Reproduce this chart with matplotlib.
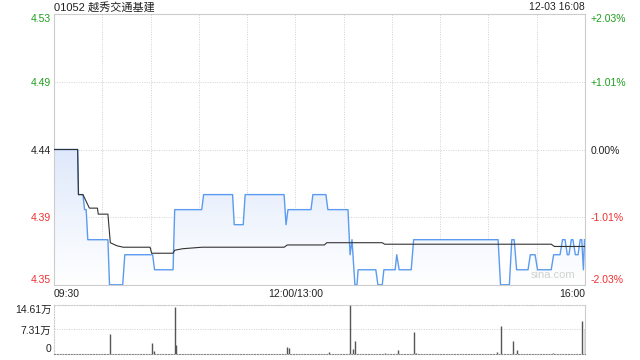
import numpy as np
import matplotlib
matplotlib.use('Agg')
import matplotlib.pyplot as plt
from matplotlib.colors import LinearSegmentedColormap

plt.rcParams['font.family'] = ['Liberation Sans', 'Noto Sans CJK SC', 'DejaVu Sans']

title = '01052 越秀交通基建'
stamp = '12-03 16:08'
prev_close = 4.44

# price line, breakpoints (minutes since 09:30, lunch removed)
price_t = [0, 14.7, 15.2, 18, 19, 20, 21, 33.5, 34.5, 42.7, 44, 61.3, 62.5, 74, 75,
           91.8, 93, 111, 112, 117.6, 118.8, 143, 144.2, 145.4, 159.7, 160.9, 169, 170.2,
           182.7, 184, 185.2, 187, 188.3, 189, 200, 201.3, 204, 205, 212, 213, 214.5,
           222, 223.5, 276, 277.5, 283, 284.5, 286, 287.5, 294.6, 296, 299, 300.5,
           309, 310.5, 314.5, 316, 317.6, 319, 320, 321.5, 322.5, 324, 325.7, 327,
           328, 329, 329.7]
price_v = [4.44, 4.44, 4.41, 4.41, 4.40, 4.40, 4.38, 4.38, 4.35, 4.35, 4.37, 4.37, 4.36, 4.36, 4.40,
           4.40, 4.41, 4.41, 4.39, 4.39, 4.41, 4.41, 4.39, 4.40, 4.40, 4.41, 4.41, 4.40,
           4.40, 4.37, 4.38, 4.35, 4.35, 4.36, 4.36, 4.35, 4.35, 4.36, 4.36, 4.37, 4.36,
           4.36, 4.38, 4.38, 4.35, 4.35, 4.38, 4.38, 4.36, 4.36, 4.37, 4.37, 4.36,
           4.36, 4.37, 4.37, 4.38, 4.38, 4.37, 4.37, 4.38, 4.38, 4.37, 4.37, 4.38,
           4.38, 4.36, 4.38]

# average price line
avg_t = [0, 14.7, 15.2, 18, 22, 27, 27.5, 33.5, 35, 39, 43, 59.7, 60.7, 74, 75, 80, 92,
         143, 145, 168, 169.5, 204, 205.5, 309, 311, 329.7]
avg_v = [4.44, 4.44, 4.41, 4.41, 4.401, 4.401, 4.397, 4.397, 4.378, 4.376, 4.375, 4.375,
         4.371, 4.371, 4.373, 4.374, 4.375, 4.375, 4.3765, 4.3765, 4.378, 4.378, 4.377,
         4.377, 4.3755, 4.3755]

# volume spikes (万股)
vol_t = [35, 61, 62, 75, 76, 145, 146, 171, 184, 186, 187, 206, 214, 224, 225,
         275, 278, 285, 288, 310, 328, 330]
vol_v = [5.96, 3.4, 1.0, 13.9, 2.7, 2.1, 1.7, 0.6, 14.61, 1.5, 3.9, 0.4, 1.2, 6.6, 0.4,
         0.6, 8.3, 3.9, 1.2, 0.3, 9.8, 7.6]

xtick_pos = [0, 150, 330]
xtick_lab = ['09:30', '12:00/13:00', '16:00']
pct = [2.03, 1.01, 0.0, -1.01, -2.03]
ylab_left = ['4.53', '4.49', '4.44', '4.39', '4.35']
ylab_right = ['+2.03%', '+1.01%', '0.00%', '-1.01%', '-2.03%']
vol_ticks = [0, 7.31, 14.61]
vol_lab = ['0', '7.31万', '14.61万']

green = '#1e9e1e'
red = '#ee3030'
dark = '#222222'
border = '#cccccc'

fig = plt.figure(figsize=(6.4, 3.6), dpi=100)
ax = fig.add_axes([54/640, 1-285/360, 531/640, 271/360])
axv = fig.add_axes([54/640, 1-354/360, 531/640, 49/360])

yticks = [prev_close*(1+p/100) for p in pct]
y0, y1 = yticks[-1], yticks[0]
ax.set_xlim(0, 330)
ax.set_ylim(y0, y1)

# gradient fill under the price line
poly = ax.fill_between(price_t, price_v, y0, color='none', lw=0)
cmap = LinearSegmentedColormap.from_list('fade', ['#ffffff', '#dfe9fb'])
grad = np.linspace(1, 0, 256).reshape(-1, 1)
im = ax.imshow(grad, extent=[0, 330, y0, prev_close], aspect='auto', cmap=cmap,
               origin='upper', zorder=1)
im.set_clip_path(poly.get_paths()[0], transform=ax.transData)
ax.set_ylim(y0, y1)

ax.plot(price_t, price_v, color='#5b9bf0', lw=1.0, zorder=3)
ax.plot(avg_t, avg_v, color='#333333', lw=0.8, zorder=4)

ax.set_yticks(yticks)
ax.set_yticklabels(ylab_left)
ax.set_xticks(xtick_pos)
ax.set_xticklabels(xtick_lab)
ax.set_xticks(np.arange(30, 330, 30), minor=True)
ax.grid(True, which='both', axis='x', color='#d2d2d2', ls=(0, (1, 1.5)), lw=0.7)
ax.grid(True, which='major', axis='y', color='#d2d2d2', ls=(0, (1, 1.5)), lw=0.7)
ax.set_axisbelow(True)
ax.tick_params(axis='both', which='both', length=0, labelsize=7.5)
ax.tick_params(axis='y', pad=2)
ax.tick_params(axis='x', pad=3)
for sp in ax.spines.values():
    sp.set_color(border)
    sp.set_linewidth(0.8)

cols = [green, green, dark, red, red]
for lab, c in zip(ax.get_yticklabels(), cols):
    lab.set_color(c)
ax.get_yticklabels()[0].set_va('top')
ax.get_yticklabels()[-1].set_va('bottom')
xl = ax.get_xticklabels()
xl[0].set_ha('left')
xl[-1].set_ha('right')
for lab in xl:
    lab.set_color(dark)

ax2 = ax.twinx()
ax2.set_ylim(y0, y1)
ax2.set_yticks(yticks)
ax2.set_yticklabels(ylab_right)
ax2.tick_params(axis='y', length=0, labelsize=7.5, pad=4)
for sp in ax2.spines.values():
    sp.set_visible(False)
for lab, c in zip(ax2.get_yticklabels(), cols):
    lab.set_color(c)
ax2.get_yticklabels()[0].set_va('top')
ax2.get_yticklabels()[-1].set_va('bottom')

ax.text(0.94, 0.02, 'sina.com', transform=ax.transAxes, ha='center', va='bottom',
        fontsize=8, color='#d0d0d0', zorder=5)

fig.text(54/640, 1-7/360, title, ha='left', va='center', fontsize=8, color=dark)
fig.text(585/640, 1-7/360, stamp, ha='right', va='center', fontsize=7.5, color=dark)

# volume panel
axv.vlines(vol_t, 0, vol_v, color='#555555', lw=1.0)
axv.set_xlim(0, 330)
axv.set_ylim(0, 14.61)
axv.set_yticks(vol_ticks)
axv.set_yticklabels(vol_lab)
axv.set_xticks([])
axv.grid(True, axis='y', color='#cfcfcf', ls=(0, (1, 1.5)), lw=0.7)
axv.tick_params(axis='y', length=0, labelsize=7.5, pad=2, labelcolor=dark)
vl = axv.get_yticklabels()
vl[0].set_va('bottom')
vl[-1].set_va('top')
for name, sp in axv.spines.items():
    sp.set_color(border)
    sp.set_linewidth(0.8)
    if name != 'right':
        sp.set_linestyle((0, (1, 1.5)))
axv.spines['bottom'].set_color('#8a8a8a')

fig.savefig('out.png', dpi=100)
